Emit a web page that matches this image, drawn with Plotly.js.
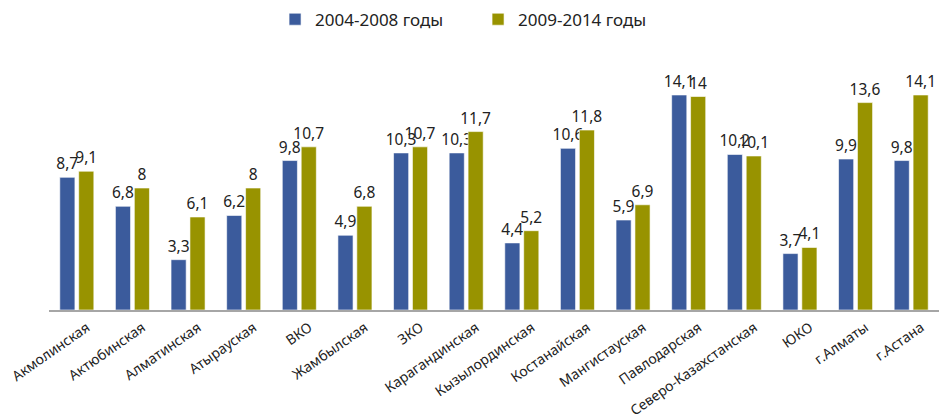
<!DOCTYPE html>
<html>
<head>
<meta charset="utf-8">
<script src="https://cdn.plot.ly/plotly-3.0.1.min.js"></script>
<style>html,body{margin:0;padding:0;background:#fff;}#chart{width:939px;height:420px;}</style>
</head>
<body>
<div id="chart"></div>
<script>
const categories = ["Акмолинская","Актюбинская","Алматинская","Атырауская","ВКО","Жамбылская","ЗКО","Карагандинская","Кызылординская","Костанайская","Мангистауская","Павлодарская","Северо-Казахстанская","ЮКО","г.Алматы","г.Астана"];
const series1Name = "2004-2008 годы";
const series2Name = "2009-2014 годы";
const series1 = [8.7,6.8,3.3,6.2,9.8,4.9,10.3,10.3,4.4,10.6,5.9,14.1,10.2,3.7,9.9,9.8];
const series2 = [9.1,8,6.1,8,10.7,6.8,10.7,11.7,5.2,11.8,6.9,14,10.1,4.1,13.6,14.1];

const fontFam = "Noto Sans, Open Sans, sans-serif";
function mk(name, vals, color){
  return {
    type:'bar', name:name, x:categories, y:vals,
    marker:{color:color, line:{color:'rgba(255,255,255,0.6)', width:1}},
    texttemplate:'%{y}', textposition:'outside', constraintext:'none', cliponaxis:false,
    textfont:{family:fontFam, size:15.5, color:'#222'},
    hoverinfo:'skip'
  };
}
const data = [mk(series1Name, series1, '#3B5B9C'), mk(series2Name, series2, '#989300')];
const layout = {
  width:939, height:420,
  margin:{l:49, r:0, t:66, b:110, autoexpand:false},
  separators:', ',
  barmode:'group', bargap:0.32, bargroupgap:0.2,
  paper_bgcolor:'#fff', plot_bgcolor:'#fff',
  font:{family:fontFam, color:'#222'},
  showlegend:true,
  legend:{orientation:'h', x:0.254, xanchor:'left', y:1.19, yanchor:'middle', font:{size:17, family:fontFam, color:'#222'}, entrywidth:158, entrywidthmode:'pixels', itemwidth:30, traceorder:'normal'},
  xaxis:{type:'category', tickangle:-35, tickfont:{size:14, family:fontFam, color:'#222'}, ticklabelshift:10, ticklabelstandoff:2, showline:true, linecolor:'#a6a6a6', linewidth:2, ticks:'', showgrid:false, zeroline:false, fixedrange:true, automargin:false},
  yaxis:{range:[0,16], visible:false, showgrid:false, zeroline:false, fixedrange:true}
};
Plotly.newPlot('chart', data, layout, {displayModeBar:false, staticPlot:true});
</script>
</body>
</html>
